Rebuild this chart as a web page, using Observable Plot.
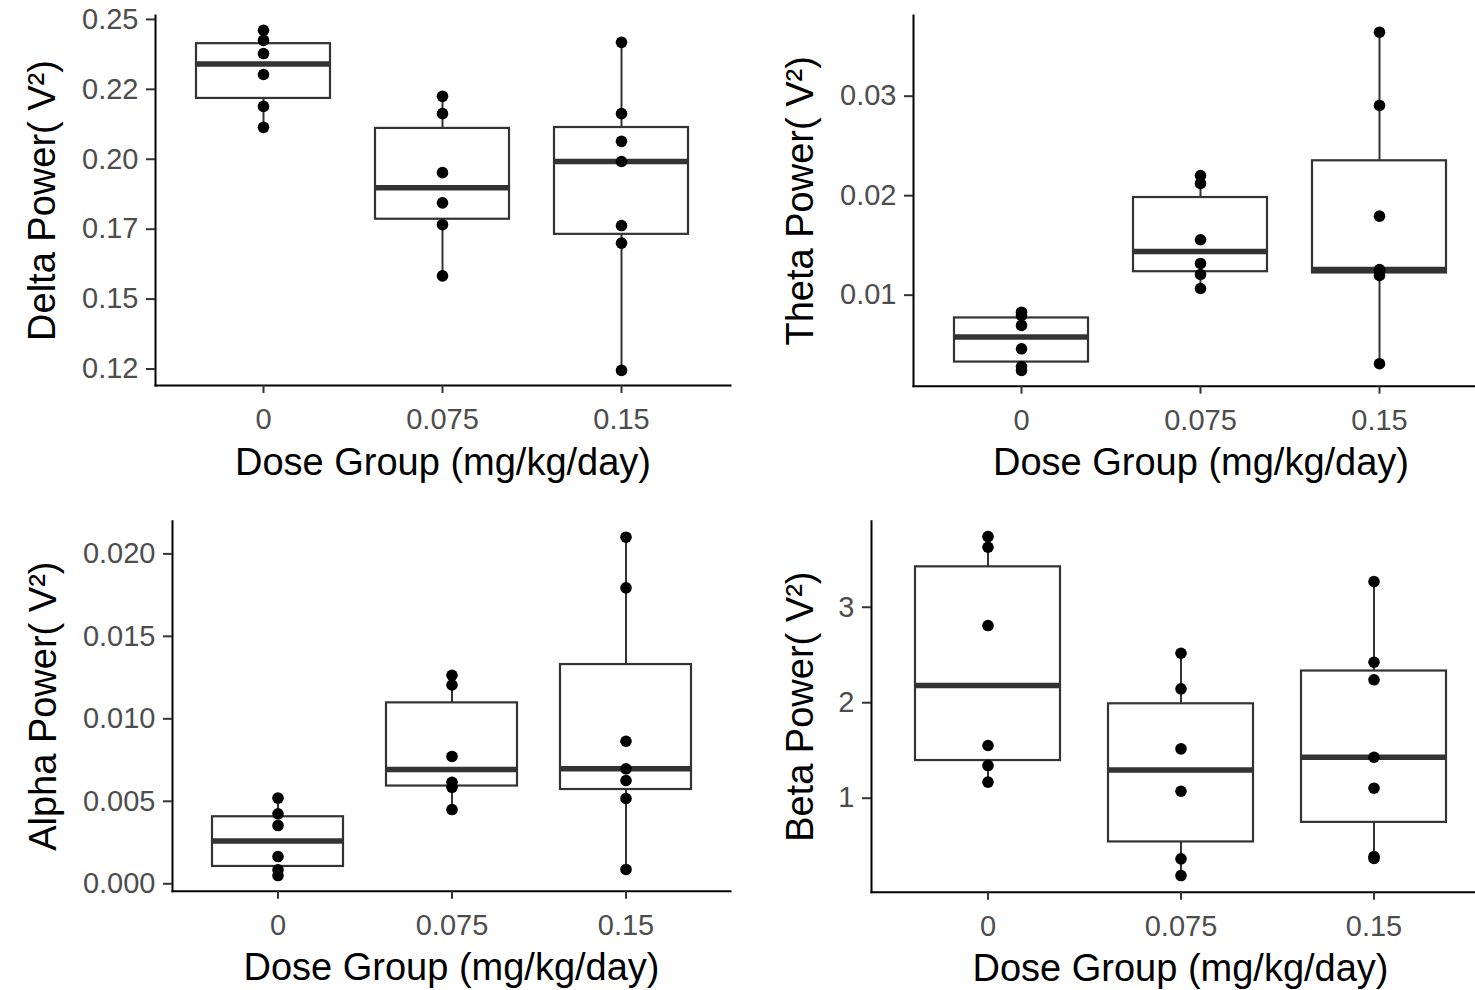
<!DOCTYPE html>
<html>
<head>
<meta charset="utf-8">
<script src="https://cdn.jsdelivr.net/npm/d3@7"></script>
<script src="https://cdn.jsdelivr.net/npm/@observablehq/plot@0.6"></script>
<style>
  html, body { margin: 0; padding: 0; background: #fff; overflow: hidden; }
  #wrap { position: relative; width: 1475px; height: 990px; overflow: hidden; background: #fff; }
  .panel { position: absolute; }
  .panel svg { max-width: none !important; display: block; }
</style>
</head>
<body>
<div id="wrap"></div>
<script>
// ---- Data ----
const doseGroups = ["0", "0.075", "0.15"];
const xTitle = "Dose Group (mg/kg/day)";

const deltaPower = [
  [0.2461, 0.2425, 0.2378, 0.2303, 0.2189, 0.2114],
  [0.2225, 0.2163, 0.1952, 0.1844, 0.1766, 0.1583],
  [0.2418, 0.2163, 0.2064, 0.1992, 0.1763, 0.1700, 0.1245]
];
const thetaPower = [
  [0.00829, 0.00796, 0.00696, 0.00461, 0.00283, 0.00243],
  [0.02203, 0.02123, 0.01557, 0.01319, 0.01208, 0.01067],
  [0.03643, 0.02907, 0.01794, 0.01258, 0.01248, 0.01198, 0.00311]
];
const alphaPower = [
  [0.00519, 0.00424, 0.00353, 0.00165, 0.00085, 0.00050],
  [0.01264, 0.01205, 0.00772, 0.00615, 0.00585, 0.00450],
  [0.02101, 0.01794, 0.00864, 0.00697, 0.00626, 0.00517, 0.00087]
];
const betaPower = [
  [3.740, 3.628, 2.808, 1.552, 1.342, 1.168],
  [2.518, 2.146, 1.517, 1.073, 0.365, 0.190],
  [3.269, 2.424, 2.240, 1.429, 1.105, 0.389, 0.369]
];

const deltaTicks = [0.125, 0.15, 0.175, 0.2, 0.225, 0.25];
const deltaTickLabels = ["0.12", "0.15", "0.17", "0.20", "0.22", "0.25"];
const thetaTicks = [0.01, 0.02, 0.03];
const thetaTickLabels = ["0.01", "0.02", "0.03"];
const alphaTicks = [0, 0.005, 0.01, 0.015, 0.02];
const alphaTickLabels = ["0.000", "0.005", "0.010", "0.015", "0.020"];
const betaTicks = [1, 2, 3];
const betaTickLabels = ["1", "2", "3"];

// ---- Panel builder ----
const FONT = "'Liberation Sans', Arial, Helvetica, sans-serif";

function boxPanel(cfg) {
  const rows = [];
  doseGroups.forEach((g, i) => cfg.values[i].forEach(v => rows.push({group: g, value: v})));
  const stats = doseGroups.map((g, i) => {
    const v = cfg.values[i].slice().sort(d3.ascending);
    const q1 = d3.quantile(v, 0.25), med = d3.quantile(v, 0.5), q3 = d3.quantile(v, 0.75);
    const iqr = q3 - q1;
    const lo = d3.min(v.filter(d => d >= q1 - 1.5 * iqr));
    const hi = d3.max(v.filter(d => d <= q3 + 1.5 * iqr));
    return {group: g, q1, med, q3, lo, hi};
  });
  const fmt = d => {
    const k = cfg.ticks.findIndex(t => Math.abs(t - d) < 1e-9);
    return k >= 0 ? cfg.tickLabels[k] : "";
  };
  return Plot.plot({
    width: cfg.width,
    height: cfg.height,
    marginLeft: cfg.ml, marginRight: cfg.mr, marginTop: cfg.mt, marginBottom: cfg.mb,
    style: {fontFamily: FONT, fontSize: "29px", background: "transparent", overflow: "visible", maxWidth: "none"},
    x: {type: "band", domain: doseGroups, paddingInner: 0.25, paddingOuter: 0.225, align: 0.5},
    y: {domain: cfg.domain},
    marks: [
      Plot.ruleX(stats, {x: "group", y1: "q3", y2: "hi", stroke: "#333333", strokeWidth: 2}),
      Plot.ruleX(stats, {x: "group", y1: "lo", y2: "q1", stroke: "#333333", strokeWidth: 2}),
      Plot.barY(stats, {x: "group", y1: "q1", y2: "q3", fill: "white", stroke: "#333333", strokeWidth: 2.2}),
      Plot.tickY(stats, {x: "group", y: "med", stroke: "#333333", strokeWidth: 5.5}),
      Plot.dot(rows, {x: "group", y: "value", r: 5.8, fill: "black", stroke: "none"}),
      Plot.frame({anchor: "left", stroke: "black", strokeWidth: 2}),
      Plot.frame({anchor: "bottom", stroke: "black", strokeWidth: 2}),
      Plot.axisY({ticks: cfg.ticks, tickFormat: fmt, tickSize: 9, tickPadding: 8, stroke: "#333333", strokeWidth: 2, fill: "#4D4D4D", fontSize: 29, label: null}),
      Plot.axisX({tickSize: 8, tickPadding: 15, stroke: "#333333", strokeWidth: 2, fill: "#4D4D4D", fontSize: 29, label: null}),
      Plot.text([cfg.ylabel], {frameAnchor: "left", dx: cfg.labelDx, rotate: -90, textAnchor: "middle", lineAnchor: "middle", fontSize: 38, fill: "black"}),
      Plot.text([xTitle], {frameAnchor: "bottom", dy: 77, textAnchor: "middle", lineAnchor: "middle", fontSize: 38, fill: "black"})
    ]
  });
}

const panels = [
  {left: 0, top: 0, width: 740, height: 500, ml: 155, mr: 10, mt: 15, mb: 115,
   values: deltaPower, domain: [0.1191, 0.2514], ticks: deltaTicks, tickLabels: deltaTickLabels,
   ylabel: "Delta Power( V²)", labelDx: -113},
  {left: 740, top: 0, width: 760, height: 500, ml: 173, mr: 12, mt: 15, mb: 114.3,
   values: thetaPower, domain: [0.00085, 0.03811], ticks: thetaTicks, tickLabels: thetaTickLabels,
   ylabel: "Theta Power( V²)", labelDx: -113},
  {left: 0, top: 500, width: 740, height: 490, ml: 172, mr: 10, mt: 20.7, mb: 99.3,
   values: alphaPower, domain: [-0.00045, 0.02198], ticks: alphaTicks, tickLabels: alphaTickLabels,
   ylabel: "Alpha Power( V²)", labelDx: -128.5},
  {left: 740, top: 500, width: 760, height: 490, ml: 131, mr: 11, mt: 20.7, mb: 98.3,
   values: betaPower, domain: [0.0157, 3.901], ticks: betaTicks, tickLabels: betaTickLabels,
   ylabel: "Beta Power( V²)", labelDx: -71}
];

const wrap = document.getElementById("wrap");
for (const p of panels) {
  const div = document.createElement("div");
  div.className = "panel";
  div.style.left = p.left + "px";
  div.style.top = p.top + "px";
  div.style.width = p.width + "px";
  div.style.height = p.height + "px";
  div.appendChild(boxPanel(p));
  wrap.appendChild(div);
}
</script>
</body>
</html>
